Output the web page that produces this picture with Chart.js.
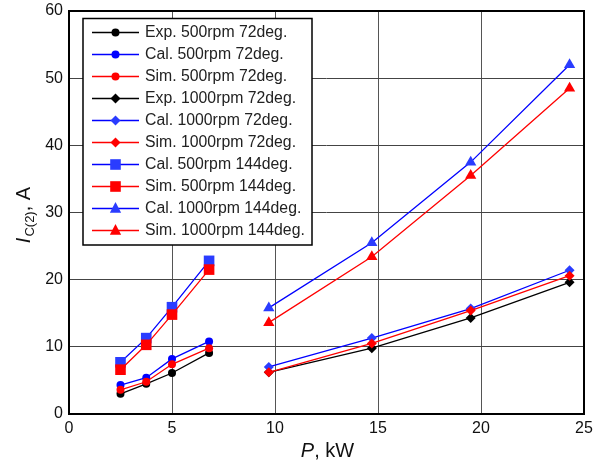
<!DOCTYPE html>
<html>
<head>
<meta charset="utf-8">
<script src="https://cdn.jsdelivr.net/npm/chart.js@4.4.0/dist/chart.umd.min.js"></script>
<style>
html,body{margin:0;padding:0;background:#fff;}
#wrap{width:595px;height:465px;}
</style>
</head>
<body>
<div id="wrap"><canvas id="c" width="595" height="465"></canvas></div>
<script>
const P_500 = [2.5, 3.75, 5.0, 6.8];
const P_1000 = [9.7, 14.7, 19.5, 24.3];
const exp500_72 = [3.0, 4.5, 6.1, 9.1];
const cal500_72 = [4.3, 5.4, 8.2, 10.8];
const sim500_72 = [3.6, 4.8, 7.4, 9.8];
const exp1000_72 = [6.2, 9.8, 14.3, 19.6];
const cal1000_72 = [7.0, 11.3, 15.7, 21.4];
const sim1000_72 = [6.2, 10.5, 15.4, 20.6];
const cal500_144 = [7.7, 11.3, 15.9, 22.8];
const sim500_144 = [6.6, 10.3, 14.8, 21.5];
const cal1000_144 = [15.8, 25.5, 37.5, 52.0];
const sim1000_144 = [13.6, 23.4, 35.5, 48.5];
const labels = ["Exp. 500rpm 72deg.","Cal. 500rpm 72deg.","Sim. 500rpm 72deg.",
  "Exp. 1000rpm 72deg.","Cal. 1000rpm 72deg.","Sim. 1000rpm 72deg.",
  "Cal. 500rpm 144deg.","Sim. 500rpm 144deg.","Cal. 1000rpm 144deg.","Sim. 1000rpm 144deg."];
const xTicks = [0,5,10,15,20,25];
const yTicks = [0,10,20,30,40,50,60];

const BLK = '#000000', BLU = '#0000ff', BLUP = '#2a3cff', RED = '#ff0000';
const FONT = '"Liberation Sans", Arial, sans-serif';
function pts(xs, ys){ return xs.map((x,i)=>({x:x, y:ys[i]})); }
function ds(label, xs, ys, line, pt, style, r, order){
  return {label, data: pts(xs, ys), borderColor: line, backgroundColor: pt,
    pointBackgroundColor: pt, pointBorderColor: pt, pointBorderWidth: 0,
    pointStyle: style, pointRadius: r, pointHoverRadius: r, borderWidth: 1.3,
    showLine: true, tension: 0, order};
}
const datasets = [
  ds(labels[0], P_500, exp500_72, BLK, BLK, 'circle', 4, 3),
  ds(labels[1], P_500, cal500_72, BLU, BLU, 'circle', 4, 2),
  ds(labels[2], P_500, sim500_72, RED, RED, 'circle', 4, 1),
  ds(labels[3], P_1000, exp1000_72, BLK, BLK, 'rectRot', 5, 3),
  ds(labels[4], P_1000, cal1000_72, BLU, BLUP, 'rectRot', 5, 2),
  ds(labels[5], P_1000, sim1000_72, RED, RED, 'rectRot', 5, 1),
  ds(labels[6], P_500, cal500_144, BLU, BLUP, 'rect', 7.5, 2),
  ds(labels[7], P_500, sim500_144, RED, RED, 'rect', 7.5, 1),
  ds(labels[8], P_1000, cal1000_144, BLU, BLUP, 'triangle', 6.5, 2),
  ds(labels[9], P_1000, sim1000_144, RED, RED, 'triangle', 6.5, 1)
];

function marker(ctx, style, x, y, r, color){
  ctx.save(); ctx.fillStyle = color; ctx.beginPath();
  if (style === 'circle') { ctx.arc(x, y, r, 0, Math.PI*2); }
  else if (style === 'rectRot') { ctx.moveTo(x, y-r); ctx.lineTo(x+r, y); ctx.lineTo(x, y+r); ctx.lineTo(x-r, y); ctx.closePath(); }
  else if (style === 'rect') { const s = Math.SQRT1_2*r; ctx.rect(x-s, y-s, 2*s, 2*s); }
  else if (style === 'triangle') {
    ctx.moveTo(x, y - r); ctx.lineTo(x + r*0.866, y + r*0.65); ctx.lineTo(x - r*0.866, y + r*0.65); ctx.closePath();
  }
  ctx.fill(); ctx.restore();
}

const decor = {
  id: 'decor',
  afterDatasetsDraw(chart){
    const ctx = chart.ctx, a = chart.chartArea;
    ctx.save();
    ctx.strokeStyle = '#000'; ctx.lineWidth = 2;
    ctx.strokeRect(a.left, a.top, a.right - a.left, a.bottom - a.top);
    // legend
    const bx = 83, by = 18.5, bw = 229, bh = 226.5;
    ctx.fillStyle = '#fff'; ctx.fillRect(bx, by, bw, bh);
    ctx.lineWidth = 1.5; ctx.strokeStyle = '#000'; ctx.strokeRect(bx, by, bw, bh);
    ctx.font = '15.8px ' + FONT;
    ctx.textBaseline = 'middle'; ctx.textAlign = 'left';
    chart.data.datasets.forEach((d, i) => {
      const y = 32.5 + i * 22;
      ctx.strokeStyle = d.borderColor; ctx.lineWidth = 1.3;
      ctx.beginPath(); ctx.moveTo(92, y); ctx.lineTo(139, y); ctx.stroke();
      marker(ctx, d.pointStyle, 115.5, y, d.pointRadius, d.pointBackgroundColor);
      ctx.fillStyle = '#222'; ctx.fillText(d.label, 145, y + 0.5);
    });
    // axis titles
    ctx.fillStyle = '#111';
    ctx.textBaseline = 'alphabetic';
    const f1 = 'italic 20px ' + FONT;
    const f2 = '20px ' + FONT;
    ctx.font = f1; const wP = ctx.measureText('P').width;
    ctx.font = f2; const wR = ctx.measureText(', kW').width;
    let x0 = (a.left + a.right)/2 - (wP + wR)/2 + 1;
    ctx.font = f1; ctx.fillText('P', x0, 457);
    ctx.font = f2; ctx.fillText(', kW', x0 + wP, 457);
    // y title rotated
    ctx.save();
    ctx.translate(30, (a.top + a.bottom)/2 + 3);
    ctx.rotate(-Math.PI/2);
    const f3 = '13px ' + FONT;
    ctx.font = f1; const wI = ctx.measureText('I').width;
    ctx.font = f3; const wS = ctx.measureText('C(2)').width;
    ctx.font = f2; const wA = ctx.measureText(', A').width;
    let sx = -(wI + wS + wA)/2;
    ctx.font = f1; ctx.fillText('I', sx, 0);
    ctx.font = f3; ctx.fillText('C(2)', sx + wI + 1, 4);
    ctx.font = f2; ctx.fillText(', A', sx + wI + wS + 1, 0);
    ctx.restore();
    ctx.restore();
  }
};

new Chart(document.getElementById('c'), {
  type: 'scatter',
  data: { datasets },
  options: {
    responsive: false, animation: false, devicePixelRatio: 1,
    layout: { padding: { top: 11, right: 11, left: 0, bottom: 0 } },
    plugins: { legend: { display: false }, tooltip: { enabled: false } },
    scales: {
      x: { type: 'linear', min: 0, max: 25,
        afterFit(s){ s.height = 51; s.paddingLeft = 0; s.paddingRight = 0; },
        afterBuildTicks(s){ s.ticks = xTicks.map(v => ({value: v})); },
        grid: { color: '#555', lineWidth: 1, drawTicks: false },
        border: { display: false },
        ticks: { padding: 5, color: '#111', font: { size: 16, family: FONT } } },
      y: { type: 'linear', min: 0, max: 60,
        afterFit(s){ s.width = 69; s.paddingTop = 0; s.paddingBottom = 0; },
        afterBuildTicks(s){ s.ticks = yTicks.map(v => ({value: v})); },
        grid: { color: '#444', lineWidth: 1, drawTicks: false },
        border: { display: false },
        ticks: { padding: 6, color: '#111', font: { size: 16, family: FONT } } }
    }
  },
  plugins: [decor]
});
</script>
</body>
</html>
